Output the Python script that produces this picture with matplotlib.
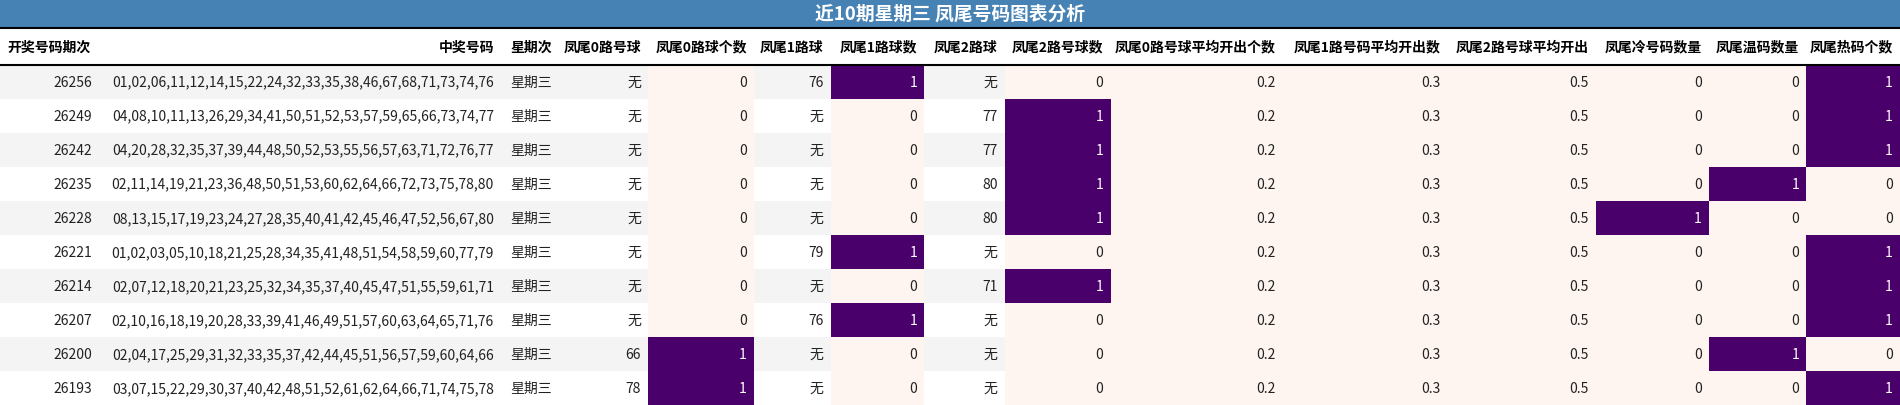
import matplotlib
matplotlib.use("Agg")
import matplotlib.pyplot as plt
from matplotlib.patches import Rectangle
import numpy as np

plt.rcParams['font.family'] = ['Noto Sans CJK SC', 'DejaVu Sans']

title = "近10期星期三 凤尾号码图表分析"
headers = ["开奖号码期次", "中奖号码", "星期次", "凤尾0路号球", "凤尾0路球个数", "凤尾1路球", "凤尾1路球数",
           "凤尾2路球", "凤尾2路号球数", "凤尾0路号球平均开出个数", "凤尾1路号码平均开出数",
           "凤尾2路号球平均开出", "凤尾冷号码数量", "凤尾温码数量", "凤尾热码个数"]
periods = ["26256", "26249", "26242", "26235", "26228", "26221", "26214", "26207", "26200", "26193"]
numbers = [
    "01,02,06,11,12,14,15,22,24,32,33,35,38,46,67,68,71,73,74,76",
    "04,08,10,11,13,26,29,34,41,50,51,52,53,57,59,65,66,73,74,77",
    "04,20,28,32,35,37,39,44,48,50,52,53,55,56,57,63,71,72,76,77",
    "02,11,14,19,21,23,36,48,50,51,53,60,62,64,66,72,73,75,78,80",
    "08,13,15,17,19,23,24,27,28,35,40,41,42,45,46,47,52,56,67,80",
    "01,02,03,05,10,18,21,25,28,34,35,41,48,51,54,58,59,60,77,79",
    "02,07,12,18,20,21,23,25,32,34,35,37,40,45,47,51,55,59,61,71",
    "02,10,16,18,19,20,28,33,39,41,46,49,51,57,60,63,64,65,71,76",
    "02,04,17,25,29,31,32,33,35,37,42,44,45,51,56,57,59,60,64,66",
    "03,07,15,22,29,30,37,40,42,48,51,52,61,62,64,66,71,74,75,78",
]
weekday = ["星期三"] * 10
tail0_ball = ["无"] * 8 + ["66", "78"]
tail0_cnt = [0, 0, 0, 0, 0, 0, 0, 0, 1, 1]
tail1_ball = ["76", "无", "无", "无", "无", "79", "无", "76", "无", "无"]
tail1_cnt = [1, 0, 0, 0, 0, 1, 0, 1, 0, 0]
tail2_ball = ["无", "77", "77", "80", "80", "无", "71", "无", "无", "无"]
tail2_cnt = [0, 1, 1, 1, 1, 0, 1, 0, 0, 0]
avg0 = [0.2] * 10
avg1 = [0.3] * 10
avg2 = [0.5] * 10
cold = [0, 0, 0, 0, 1, 0, 0, 0, 0, 0]
warm = [0, 0, 0, 1, 0, 0, 0, 0, 1, 0]
hot = [1, 1, 1, 0, 0, 1, 1, 1, 0, 1]

columns = [periods, numbers, weekday, tail0_ball, tail0_cnt, tail1_ball, tail1_cnt,
           tail2_ball, tail2_cnt, avg0, avg1, avg2, cold, warm, hot]
heat_cols = {4, 6, 8, 9, 10, 11, 12, 13, 14}
edges = [0, 82, 412, 460, 533, 620, 683, 760, 826, 913, 1055, 1190, 1312, 1405, 1485, 1562]
W, H = 1562, 334
title_h, head_h, row_h = 24, 30, 28

low = np.array(matplotlib.colors.to_rgb("#fff5f0"))
high = np.array(matplotlib.colors.to_rgb("#49006a"))

fig = plt.figure(figsize=(19, 4.06), dpi=100)
ax = fig.add_axes([0, 0, 1, 1])
ax.set_xlim(0, W)
ax.set_ylim(H, 0)
ax.axis("off")

ax.add_patch(Rectangle((0, 0), W, title_h, facecolor="#4682b4", edgecolor="none"))
ax.text(W / 2, title_h / 2, title, color="white", fontsize=13.5, fontweight="bold", ha="center", va="center")
ax.plot([0, W], [title_h, title_h], color="black", lw=1.5)
y0 = title_h + head_h
ax.plot([0, W], [y0, y0], color="black", lw=1.5)

for j, h in enumerate(headers):
    if j == 0:
        ax.text(edges[0] + 6, title_h + head_h / 2, h, fontsize=10, fontweight="bold", ha="left", va="center")
    else:
        ax.text(edges[j + 1] - 6, title_h + head_h / 2, h, fontsize=10, fontweight="bold", ha="right", va="center")

for j, col in enumerate(columns):
    x0, x1 = edges[j], edges[j + 1]
    vals = [v for v in col] if j in heat_cols else None
    if j in heat_cols:
        arr = np.array(col, dtype=float)
        lo, hi = arr.min(), arr.max()
    for i, v in enumerate(col):
        yt = y0 + i * row_h
        tc = "#222222"
        if j in heat_cols:
            t = 0 if hi == lo else (v - lo) / (hi - lo)
            c = low + (high - low) * t
            if t > 0.5:
                tc = "white"
        else:
            c = "#f4f4f4" if i % 2 == 0 else "white"
        ax.add_patch(Rectangle((x0, yt), x1 - x0, row_h, facecolor=c, edgecolor="none"))
        ax.text(x1 - 6, yt + row_h / 2, str(v), fontsize=10, color=tc, ha="right", va="center")

fig.savefig("out.png", dpi=100)
